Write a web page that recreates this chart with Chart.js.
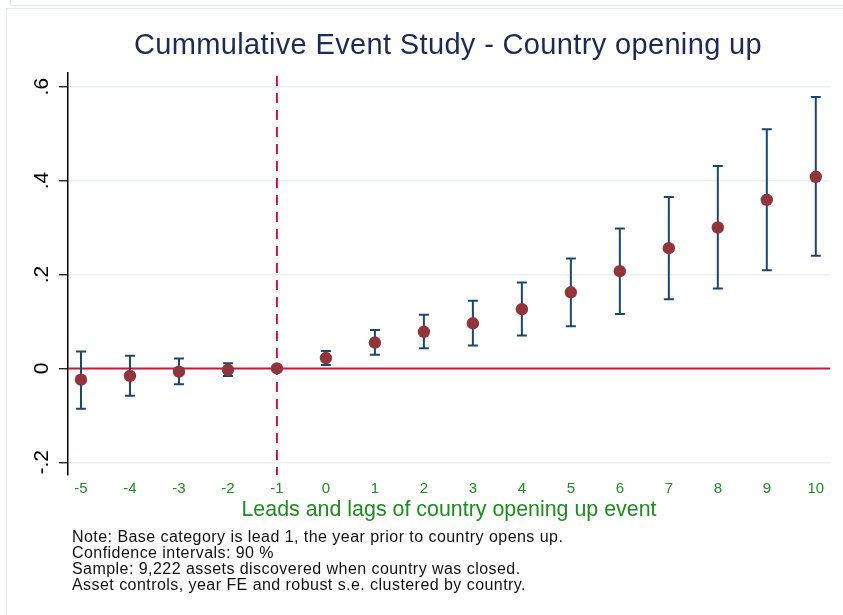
<!DOCTYPE html>
<html>
<head>
<meta charset="utf-8">
<script src="https://cdn.jsdelivr.net/npm/chart.js@4.4.1/dist/chart.umd.min.js"></script>
<style>
html, body { margin: 0; padding: 0; background: #fff; }
</style>
</head>
<body>
<canvas id="grafica" width="843" height="615"></canvas>
<script>
// Datos (leads y lags del evento)
const periodos = [-5, -4, -3, -2, -1, 0, 1, 2, 3, 4, 5, 6, 7, 8, 9, 10];
const coeficientes = [-0.024, -0.016, -0.007, -0.003, 0, 0.022, 0.055, 0.078, 0.096, 0.126, 0.162, 0.207, 0.256, 0.300, 0.359, 0.408];
const limiteInferior = [-0.086, -0.058, -0.034, -0.016, null, 0.007, 0.029, 0.043, 0.049, 0.070, 0.090, 0.116, 0.147, 0.170, 0.209, 0.240];
const limiteSuperior = [0.036, 0.027, 0.021, 0.011, null, 0.037, 0.082, 0.114, 0.144, 0.183, 0.234, 0.298, 0.365, 0.431, 0.509, 0.578];
const ticksY = [-0.2, 0, 0.2, 0.4, 0.6];
const etiquetasY = ['-.2', '0', '.2', '.4', '.6'];
const periodoBase = -1;

const titulo = 'Cummulative Event Study - Country opening up';
const tituloEjeX = 'Leads and lags of country opening up event';
const notas = [
    'Note: Base category is lead 1, the year prior to country opens up.',
    'Confidence intervals: 90 %',
    'Sample: 9,222 assets discovered when country was closed.',
    'Asset controls, year FE and robust s.e. clustered by country.'
];

const verde = '#1e8c1e';
const fuente = "'Liberation Sans', Arial, sans-serif";
Chart.defaults.font.family = fuente;

// Plugin para lo que Chart.js no dibuja solo: lineas de referencia, intervalos, titulo y notas
const extras = {
    id: 'extras',
    beforeDraw(chart) {
        const ctx = chart.ctx;
        ctx.save();
        ctx.fillStyle = '#fff';
        ctx.fillRect(0, 0, chart.width, chart.height);
        // marco muy tenue
        ctx.strokeStyle = '#e3ebec';
        ctx.lineWidth = 1;
        ctx.strokeRect(6.5, 8.5, chart.width, chart.height);
        ctx.beginPath();
        ctx.moveTo(10.5, 0);
        ctx.lineTo(10.5, 5.5);
        ctx.lineTo(chart.width, 5.5);
        ctx.stroke();
        ctx.restore();
    },
    beforeDatasetsDraw(chart) {
        const { ctx, chartArea: a, scales: { x, y } } = chart;
        ctx.save();
        // linea horizontal en cero
        const y0 = y.getPixelForValue(0);
        ctx.strokeStyle = '#d2143c';
        ctx.lineWidth = 2;
        ctx.beginPath();
        ctx.moveTo(a.left, y0);
        ctx.lineTo(a.right, y0);
        ctx.stroke();
        // linea discontinua en el periodo base
        const xb = x.getPixelForValue(periodoBase);
        ctx.setLineDash([10, 7]);
        ctx.beginPath();
        ctx.moveTo(xb, a.top + 3);
        ctx.lineTo(xb, a.bottom);
        ctx.stroke();
        ctx.setLineDash([]);
        // intervalos de confianza
        ctx.strokeStyle = '#1a476f';
        ctx.lineWidth = 2;
        periodos.forEach((p, i) => {
            if (limiteInferior[i] === null) return;
            const px = x.getPixelForValue(p);
            const yl = y.getPixelForValue(limiteInferior[i]);
            const yh = y.getPixelForValue(limiteSuperior[i]);
            ctx.beginPath();
            ctx.moveTo(px, yl); ctx.lineTo(px, yh);
            ctx.moveTo(px - 5, yl); ctx.lineTo(px + 5, yl);
            ctx.moveTo(px - 5, yh); ctx.lineTo(px + 5, yh);
            ctx.stroke();
        });
        ctx.restore();
    },
    afterDraw(chart) {
        const { ctx, chartArea: a, scales: { y } } = chart;
        ctx.save();
        // titulo centrado sobre el area de la grafica
        ctx.fillStyle = '#1c2b55';
        ctx.font = '29px ' + fuente;
        ctx.letterSpacing = '0.35px';
        ctx.textAlign = 'center';
        ctx.textBaseline = 'alphabetic';
        ctx.fillText(titulo, (a.left + a.right) / 2 - 1, 54);
        ctx.letterSpacing = '0px';
        // etiquetas del eje Y giradas 90 grados
        ctx.fillStyle = '#000';
        ctx.font = '21px ' + fuente;
        ctx.textBaseline = 'middle';
        ticksY.forEach((v, i) => {
            ctx.save();
            ctx.translate(42, y.getPixelForValue(v));
            ctx.rotate(-Math.PI / 2);
            ctx.fillText(etiquetasY[i], 0, 0);
            ctx.restore();
        });
        // notas al pie
        ctx.font = '16px ' + fuente;
        ctx.letterSpacing = '0.45px';
        ctx.textAlign = 'left';
        ctx.textBaseline = 'alphabetic';
        ctx.fillStyle = '#111';
        notas.forEach((t, i) => ctx.fillText(t, 72, 541.5 + i * 16));
        ctx.restore();
    }
};

new Chart(document.getElementById('grafica'), {
    type: 'scatter',
    data: {
        datasets: [{
            data: periodos.map((p, i) => ({ x: p, y: coeficientes[i] })),
            backgroundColor: '#90353b',
            borderWidth: 0,
            pointRadius: 6.2,
            pointHoverRadius: 6.2
        }]
    },
    options: {
        responsive: false,
        animation: false,
        devicePixelRatio: 1,
        layout: { padding: { top: 73, right: 13, bottom: 91, left: 0 } },
        plugins: {
            legend: { display: false },
            tooltip: { enabled: false }
        },
        scales: {
            x: {
                type: 'linear',
                min: -5.265,
                max: 10.29,
                afterBuildTicks: (s) => { s.ticks = periodos.map(v => ({ value: v })); },
                afterFit: (s) => { s.height = 49; },
                grid: { display: false, drawTicks: false },
                border: { display: false },
                ticks: {
                    color: verde,
                    font: { size: 15 },
                    padding: 5,
                    autoSkip: false,
                    maxRotation: 0,
                    callback: (v) => String(v)
                },
                title: {
                    display: true,
                    text: tituloEjeX,
                    color: verde,
                    font: { size: 21.4 },
                    padding: { top: 2, bottom: 1 }
                }
            },
            y: {
                min: -0.227,
                max: 0.629,
                afterBuildTicks: (s) => { s.ticks = ticksY.map(v => ({ value: v })); },
                afterFit: (s) => { s.width = 68; },
                grid: { color: '#eaf1f2', lineWidth: 1.5, tickLength: 9, tickColor: '#000', tickWidth: 1.2 },
                border: { color: '#000', width: 1.5 },
                ticks: { display: false }
            }
        }
    },
    plugins: [extras]
});
</script>
</body>
</html>
